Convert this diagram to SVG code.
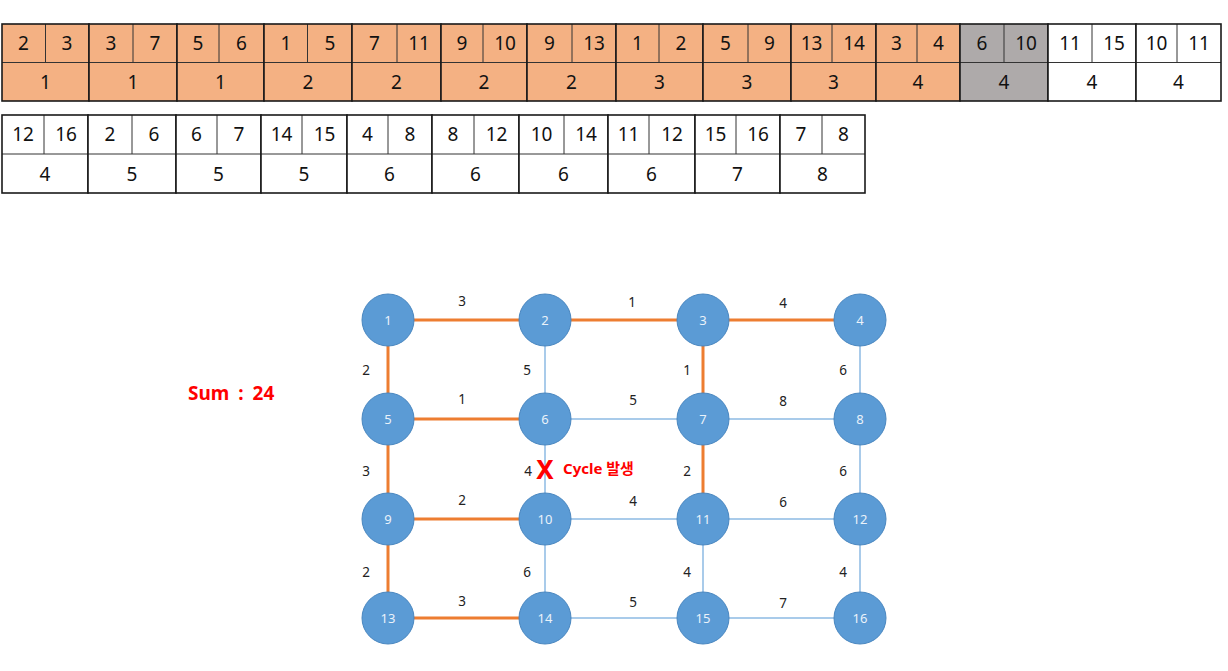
<svg xmlns="http://www.w3.org/2000/svg" width="1228" height="671" viewBox="0 0 1228 671">
<style>
.o{fill:#F4B183}.g{fill:#AEAAAA}.w{fill:#FFFFFF}
.bd{stroke:#1a1a1a;stroke-width:1.6;fill:none}
.in{stroke:#333;stroke-width:1}
.c{font-family:"Noto Sans","Noto Sans CJK KR",sans-serif;font-size:19px;fill:#111;text-anchor:middle;dominant-baseline:central}
.eo{stroke:#ED7D31;stroke-width:3}
.eb{stroke:#A9CBEA;stroke-width:2}
.nd{fill:#5B9BD5;stroke:#4A87C0;stroke-width:1}
.nt{font-family:"Noto Sans",sans-serif;font-size:13px;fill:#EAF2FA;text-anchor:middle;dominant-baseline:central}
.el{font-family:"Noto Sans",sans-serif;font-size:13.5px;fill:#222;text-anchor:middle;dominant-baseline:central}
.red{font-family:"Noto Sans","Noto Sans CJK KR",sans-serif;font-weight:bold;fill:#FF0000}
</style>
<rect width="1228" height="671" fill="#fff"/>
<g id="tables">
<g id="t1"><rect class="o" x="2" y="24" width="87" height="77"/><line class="in" x1="2" y1="62.5" x2="89" y2="62.5"/><line class="in" x1="45.5" y1="24" x2="45.5" y2="62.5"/><rect class="bd" x="2" y="24" width="87" height="77"/><text class="c" x="23.5" y="43">2</text><text class="c" x="67" y="43">3</text><text class="c" x="45.5" y="82">1</text></g>
<g id="t2"><rect class="o" x="89" y="24" width="88" height="77"/><line class="in" x1="89" y1="62.5" x2="177" y2="62.5"/><line class="in" x1="133" y1="24" x2="133" y2="62.5"/><rect class="bd" x="89" y="24" width="88" height="77"/><text class="c" x="111" y="43">3</text><text class="c" x="155" y="43">7</text><text class="c" x="133" y="82">1</text></g>
<g id="t3"><rect class="o" x="177" y="24" width="87" height="77"/><line class="in" x1="177" y1="62.5" x2="264" y2="62.5"/><line class="in" x1="219" y1="24" x2="219" y2="62.5"/><rect class="bd" x="177" y="24" width="87" height="77"/><text class="c" x="198" y="43">5</text><text class="c" x="241.5" y="43">6</text><text class="c" x="220.5" y="82">1</text></g>
<g id="t4"><rect class="o" x="264" y="24" width="88" height="77"/><line class="in" x1="264" y1="62.5" x2="352" y2="62.5"/><line class="in" x1="307.5" y1="24" x2="307.5" y2="62.5"/><rect class="bd" x="264" y="24" width="88" height="77"/><text class="c" x="286" y="43">1</text><text class="c" x="330" y="43">5</text><text class="c" x="308" y="82">2</text></g>
<g id="t5"><rect class="o" x="352" y="24" width="89" height="77"/><line class="in" x1="352" y1="62.5" x2="441" y2="62.5"/><line class="in" x1="397" y1="24" x2="397" y2="62.5"/><rect class="bd" x="352" y="24" width="89" height="77"/><text class="c" x="374.5" y="43">7</text><text class="c" x="419" y="43">11</text><text class="c" x="396.5" y="82">2</text></g>
<g id="t6"><rect class="o" x="441" y="24" width="86" height="77"/><line class="in" x1="441" y1="62.5" x2="527" y2="62.5"/><line class="in" x1="483" y1="24" x2="483" y2="62.5"/><rect class="bd" x="441" y="24" width="86" height="77"/><text class="c" x="462" y="43">9</text><text class="c" x="505" y="43">10</text><text class="c" x="484" y="82">2</text></g>
<g id="t7"><rect class="o" x="527" y="24" width="89" height="77"/><line class="in" x1="527" y1="62.5" x2="616" y2="62.5"/><line class="in" x1="572" y1="24" x2="572" y2="62.5"/><rect class="bd" x="527" y="24" width="89" height="77"/><text class="c" x="549.5" y="43">9</text><text class="c" x="594" y="43">13</text><text class="c" x="571.5" y="82">2</text></g>
<g id="t8"><rect class="o" x="616" y="24" width="87" height="77"/><line class="in" x1="616" y1="62.5" x2="703" y2="62.5"/><line class="in" x1="659" y1="24" x2="659" y2="62.5"/><rect class="bd" x="616" y="24" width="87" height="77"/><text class="c" x="637.5" y="43">1</text><text class="c" x="681" y="43">2</text><text class="c" x="659.5" y="82">3</text></g>
<g id="t9"><rect class="o" x="703" y="24" width="88" height="77"/><line class="in" x1="703" y1="62.5" x2="791" y2="62.5"/><line class="in" x1="748" y1="24" x2="748" y2="62.5"/><rect class="bd" x="703" y="24" width="88" height="77"/><text class="c" x="725.5" y="43">5</text><text class="c" x="769.5" y="43">9</text><text class="c" x="747" y="82">3</text></g>
<g id="t10"><rect class="o" x="791" y="24" width="85" height="77"/><line class="in" x1="791" y1="62.5" x2="876" y2="62.5"/><line class="in" x1="832" y1="24" x2="832" y2="62.5"/><rect class="bd" x="791" y="24" width="85" height="77"/><text class="c" x="811.5" y="43">13</text><text class="c" x="854" y="43">14</text><text class="c" x="833.5" y="82">3</text></g>
<g id="t11"><rect class="o" x="876" y="24" width="84" height="77"/><line class="in" x1="876" y1="62.5" x2="960" y2="62.5"/><line class="in" x1="917" y1="24" x2="917" y2="62.5"/><rect class="bd" x="876" y="24" width="84" height="77"/><text class="c" x="896.5" y="43">3</text><text class="c" x="938.5" y="43">4</text><text class="c" x="918" y="82">4</text></g>
<g id="t12"><rect class="g" x="960" y="24" width="88" height="77"/><line class="in" x1="960" y1="62.5" x2="1048" y2="62.5"/><line class="in" x1="1004" y1="24" x2="1004" y2="62.5"/><rect class="bd" x="960" y="24" width="88" height="77"/><text class="c" x="982" y="43">6</text><text class="c" x="1026" y="43">10</text><text class="c" x="1004" y="82">4</text></g>
<g id="t13"><rect class="w" x="1048" y="24" width="88" height="77"/><line class="in" x1="1048" y1="62.5" x2="1136" y2="62.5"/><line class="in" x1="1092" y1="24" x2="1092" y2="62.5"/><rect class="bd" x="1048" y="24" width="88" height="77"/><text class="c" x="1070" y="43">11</text><text class="c" x="1114" y="43">15</text><text class="c" x="1092" y="82">4</text></g>
<g id="t14"><rect class="w" x="1136" y="24" width="85" height="77"/><line class="in" x1="1136" y1="62.5" x2="1221" y2="62.5"/><line class="in" x1="1177" y1="24" x2="1177" y2="62.5"/><rect class="bd" x="1136" y="24" width="85" height="77"/><text class="c" x="1156.5" y="43">10</text><text class="c" x="1199" y="43">11</text><text class="c" x="1178.5" y="82">4</text></g>

<g id="t15"><rect class="w" x="2" y="115" width="86" height="78"/><line class="in" x1="2" y1="154" x2="88" y2="154"/><line class="in" x1="44" y1="115" x2="44" y2="154"/><rect class="bd" x="2" y="115" width="86" height="78"/><text class="c" x="23" y="134">12</text><text class="c" x="66" y="134">16</text><text class="c" x="45" y="173.5">4</text></g>
<g id="t16"><rect class="w" x="88" y="115" width="88" height="78"/><line class="in" x1="88" y1="154" x2="176" y2="154"/><line class="in" x1="132" y1="115" x2="132" y2="154"/><rect class="bd" x="88" y="115" width="88" height="78"/><text class="c" x="110" y="134">2</text><text class="c" x="154" y="134">6</text><text class="c" x="132" y="173.5">5</text></g>
<g id="t17"><rect class="w" x="176" y="115" width="85" height="78"/><line class="in" x1="176" y1="154" x2="261" y2="154"/><line class="in" x1="217" y1="115" x2="217" y2="154"/><rect class="bd" x="176" y="115" width="85" height="78"/><text class="c" x="196.5" y="134">6</text><text class="c" x="239" y="134">7</text><text class="c" x="218.5" y="173.5">5</text></g>
<g id="t18"><rect class="w" x="261" y="115" width="86" height="78"/><line class="in" x1="261" y1="154" x2="347" y2="154"/><line class="in" x1="302" y1="115" x2="302" y2="154"/><rect class="bd" x="261" y="115" width="86" height="78"/><text class="c" x="281.5" y="134">14</text><text class="c" x="324.5" y="134">15</text><text class="c" x="304" y="173.5">5</text></g>
<g id="t19"><rect class="w" x="347" y="115" width="85" height="78"/><line class="in" x1="347" y1="154" x2="432" y2="154"/><line class="in" x1="388" y1="115" x2="388" y2="154"/><rect class="bd" x="347" y="115" width="85" height="78"/><text class="c" x="367.5" y="134">4</text><text class="c" x="410" y="134">8</text><text class="c" x="389.5" y="173.5">6</text></g>
<g id="t20"><rect class="w" x="432" y="115" width="87" height="78"/><line class="in" x1="432" y1="154" x2="519" y2="154"/><line class="in" x1="474" y1="115" x2="474" y2="154"/><rect class="bd" x="432" y="115" width="87" height="78"/><text class="c" x="453" y="134">8</text><text class="c" x="496.5" y="134">12</text><text class="c" x="475.5" y="173.5">6</text></g>
<g id="t21"><rect class="w" x="519" y="115" width="89" height="78"/><line class="in" x1="519" y1="154" x2="608" y2="154"/><line class="in" x1="564" y1="115" x2="564" y2="154"/><rect class="bd" x="519" y="115" width="89" height="78"/><text class="c" x="541.5" y="134">10</text><text class="c" x="586" y="134">14</text><text class="c" x="563.5" y="173.5">6</text></g>
<g id="t22"><rect class="w" x="608" y="115" width="87" height="78"/><line class="in" x1="608" y1="154" x2="695" y2="154"/><line class="in" x1="649" y1="115" x2="649" y2="154"/><rect class="bd" x="608" y="115" width="87" height="78"/><text class="c" x="628.5" y="134">11</text><text class="c" x="672" y="134">12</text><text class="c" x="651.5" y="173.5">6</text></g>
<g id="t23"><rect class="w" x="695" y="115" width="85" height="78"/><line class="in" x1="695" y1="154" x2="780" y2="154"/><line class="in" x1="736" y1="115" x2="736" y2="154"/><rect class="bd" x="695" y="115" width="85" height="78"/><text class="c" x="715.5" y="134">15</text><text class="c" x="758" y="134">16</text><text class="c" x="737.5" y="173.5">7</text></g>
<g id="t24"><rect class="w" x="780" y="115" width="85" height="78"/><line class="in" x1="780" y1="154" x2="865" y2="154"/><line class="in" x1="822" y1="115" x2="822" y2="154"/><rect class="bd" x="780" y="115" width="85" height="78"/><text class="c" x="801" y="134">7</text><text class="c" x="843.5" y="134">8</text><text class="c" x="822.5" y="173.5">8</text></g>
</g>

<g id="connectors">
<line class="eb" x1="545" y1="320" x2="545" y2="419"/>
<line class="eb" x1="545" y1="419" x2="703" y2="419"/>
<line class="eb" x1="703" y1="419" x2="860" y2="419"/>
<line class="eb" x1="860" y1="320" x2="860" y2="419"/>
<line class="eb" x1="545" y1="419" x2="545" y2="519"/>
<line class="eb" x1="860" y1="419" x2="860" y2="519"/>
<line class="eb" x1="545" y1="519" x2="703" y2="519"/>
<line class="eb" x1="703" y1="519" x2="860" y2="519"/>
<line class="eb" x1="545" y1="519" x2="545" y2="618"/>
<line class="eb" x1="703" y1="519" x2="703" y2="618"/>
<line class="eb" x1="860" y1="519" x2="860" y2="618"/>
<line class="eb" x1="545" y1="618" x2="703" y2="618"/>
<line class="eb" x1="703" y1="618" x2="860" y2="618"/>
<line class="eo" x1="388" y1="320" x2="545" y2="320"/>
<line class="eo" x1="545" y1="320" x2="703" y2="320"/>
<line class="eo" x1="703" y1="320" x2="860" y2="320"/>
<line class="eo" x1="388" y1="320" x2="388" y2="419"/>
<line class="eo" x1="703" y1="320" x2="703" y2="419"/>
<line class="eo" x1="388" y1="419" x2="545" y2="419"/>
<line class="eo" x1="388" y1="419" x2="388" y2="519"/>
<line class="eo" x1="703" y1="419" x2="703" y2="519"/>
<line class="eo" x1="388" y1="519" x2="545" y2="519"/>
<line class="eo" x1="388" y1="519" x2="388" y2="618"/>
<line class="eo" x1="388" y1="618" x2="545" y2="618"/>
<text class="el" x="462" y="301">3</text>
<text class="el" x="632" y="302">1</text>
<text class="el" x="783" y="303">4</text>
<text class="el" x="366" y="370">2</text>
<text class="el" x="527" y="370">5</text>
<text class="el" x="687" y="370">1</text>
<text class="el" x="843" y="370">6</text>
<text class="el" x="462" y="399">1</text>
<text class="el" x="633" y="400">5</text>
<text class="el" x="783" y="401">8</text>
<text class="el" x="366" y="471">3</text>
<text class="el" x="528" y="471">4</text>
<text class="el" x="687" y="471">2</text>
<text class="el" x="843" y="471">6</text>
<text class="el" x="462" y="500">2</text>
<text class="el" x="633" y="501">4</text>
<text class="el" x="783" y="502">6</text>
<text class="el" x="366" y="572">2</text>
<text class="el" x="527" y="572">6</text>
<text class="el" x="687" y="572">4</text>
<text class="el" x="843" y="572">4</text>
<text class="el" x="462" y="601">3</text>
<text class="el" x="633" y="602">5</text>
<text class="el" x="783" y="603">7</text>
</g>

<g id="n1"><circle class="nd" cx="388" cy="320" r="26"/><text class="nt" x="388" y="320">1</text></g>
<g id="n2"><circle class="nd" cx="545" cy="320" r="26"/><text class="nt" x="545" y="320">2</text></g>
<g id="n3"><circle class="nd" cx="703" cy="320" r="26"/><text class="nt" x="703" y="320">3</text></g>
<g id="n4"><circle class="nd" cx="860" cy="320" r="26"/><text class="nt" x="860" y="320">4</text></g>
<g id="n5"><circle class="nd" cx="388" cy="419" r="26"/><text class="nt" x="388" y="419">5</text></g>
<g id="n6"><circle class="nd" cx="545" cy="419" r="26"/><text class="nt" x="545" y="419">6</text></g>
<g id="n7"><circle class="nd" cx="703" cy="419" r="26"/><text class="nt" x="703" y="419">7</text></g>
<g id="n8"><circle class="nd" cx="860" cy="419" r="26"/><text class="nt" x="860" y="419">8</text></g>
<g id="n9"><circle class="nd" cx="388" cy="519" r="26"/><text class="nt" x="388" y="519">9</text></g>
<g id="n10"><circle class="nd" cx="545" cy="519" r="26"/><text class="nt" x="545" y="519">10</text></g>
<g id="n11"><circle class="nd" cx="703" cy="519" r="26"/><text class="nt" x="703" y="519">11</text></g>
<g id="n12"><circle class="nd" cx="860" cy="519" r="26"/><text class="nt" x="860" y="519">12</text></g>
<g id="n13"><circle class="nd" cx="388" cy="618" r="26"/><text class="nt" x="388" y="618">13</text></g>
<g id="n14"><circle class="nd" cx="545" cy="618" r="26"/><text class="nt" x="545" y="618">14</text></g>
<g id="n15"><circle class="nd" cx="703" cy="618" r="26"/><text class="nt" x="703" y="618">15</text></g>
<g id="n16"><circle class="nd" cx="860" cy="618" r="26"/><text class="nt" x="860" y="618">16</text></g>

<g id="cycle"><text class="red" x="545" y="479" font-size="26" text-anchor="middle">X</text><text class="red" x="563" y="474" font-size="15">Cycle 발생</text></g>
<g id="sum"><text class="red" x="188" y="400" font-size="19" word-spacing="4">Sum : 24</text></g>
</svg>
